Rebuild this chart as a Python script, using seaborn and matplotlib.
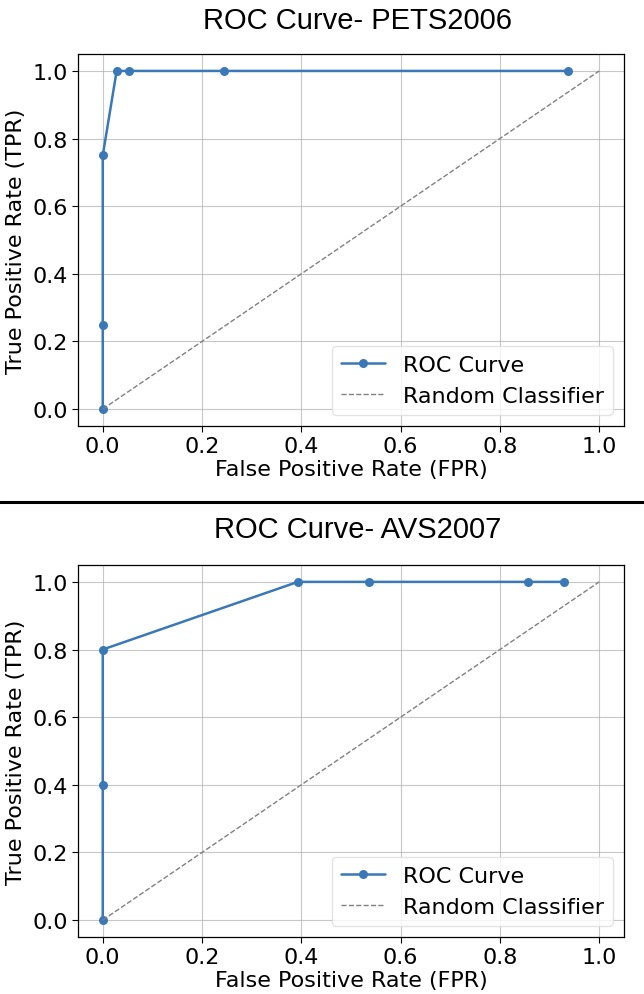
import numpy as np
import pandas as pd
import seaborn as sns
import matplotlib.pyplot as plt
from matplotlib.lines import Line2D

# ROC points
pets_fpr = [0.0, 0.0, 0.0, 0.028, 0.053, 0.245, 0.938]
pets_tpr = [0.0, 0.25, 0.75, 1.0, 1.0, 1.0, 1.0]
avs_fpr = [0.0, 0.0, 0.0, 0.393, 0.536, 0.857, 0.929]
avs_tpr = [0.0, 0.4, 0.8, 1.0, 1.0, 1.0, 1.0]
diag = [0.0, 1.0]
titles = ['ROC Curve- PETS2006', 'ROC Curve- AVS2007']

sns.set_style("ticks")
plt.rcParams['font.family'] = ['DejaVu Sans']
plt.rcParams.update({'text.color': 'black', 'axes.labelcolor': 'black',
                     'xtick.color': 'black', 'ytick.color': 'black'})

blue = '#3a78b8'
font = 16

fig = plt.figure(figsize=(6.44, 9.95), dpi=100)
ax_top = fig.add_axes([0.121, 0.5709, 0.848, 0.3738])
ax_bot = fig.add_axes([0.121, 0.0573, 0.848, 0.3739])

panels = [(ax_top, pets_fpr, pets_tpr), (ax_bot, avs_fpr, avs_tpr)]
for ax, fpr, tpr in panels:
    df = pd.DataFrame({'FPR': fpr, 'TPR': tpr})
    sns.lineplot(x='FPR', y='TPR', data=df, ax=ax, color=blue, marker='o',
                 markersize=6.5, markeredgewidth=0, linewidth=1.8,
                 sort=False, estimator=None, label='ROC Curve')
    ax.plot(diag, diag, linestyle='--', color='gray', linewidth=1.0,
            label='Random Classifier')
    ax.set_xlim(-0.05, 1.05)
    ax.set_ylim(-0.05, 1.05)
    ax.set_xticks(np.arange(0, 1.01, 0.2))
    ax.set_yticks(np.arange(0, 1.01, 0.2))
    ax.grid(True, color='#b0b0b0', linewidth=0.8, alpha=0.7)
    ax.tick_params(labelsize=font, length=4, color='black')
    for s in ax.spines.values():
        s.set_color('black')
        s.set_linewidth(0.9)
    ax.set_xlabel('False Positive Rate (FPR)', fontsize=font, labelpad=2)
    ax.set_ylabel('True Positive Rate (TPR)', fontsize=font, labelpad=4)
    ax.legend(loc='lower right', fontsize=font, handlelength=2.0,
              framealpha=0.8, edgecolor='#dddddd')

fig.text(0.555, 0.979, titles[0], ha='center', va='center', fontsize=21,
         family='Liberation Sans')
fig.text(0.555, 0.467, titles[1], ha='center', va='center', fontsize=21,
         family='Liberation Sans')
fig.add_artist(Line2D([0.0, 1.0], [0.4945, 0.4945], color='black',
                      linewidth=2.2, transform=fig.transFigure))

plt.savefig('out.png', dpi=100)
